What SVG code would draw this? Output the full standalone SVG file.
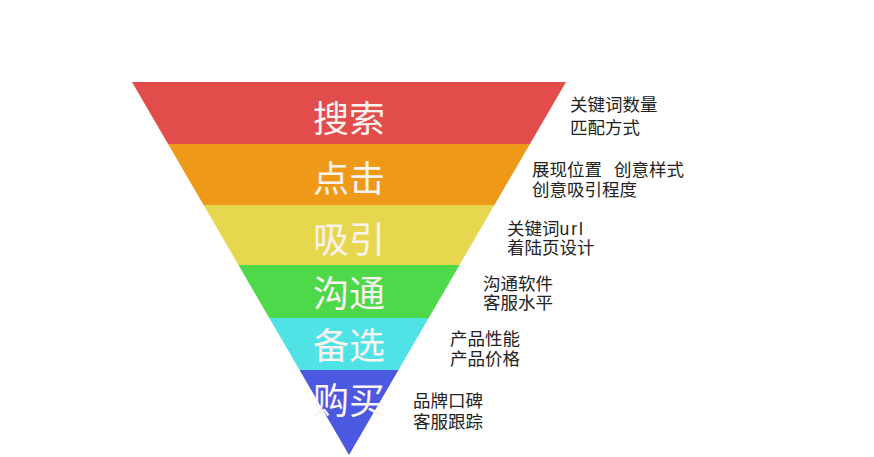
<svg xmlns="http://www.w3.org/2000/svg" width="874" height="457" viewBox="0 0 874 457">
<defs>
<style>
.big{font-family:"Noto Sans CJK SC","Noto Sans",sans-serif;font-size:36px;fill:#fbf3f0;text-anchor:middle;dominant-baseline:central}
.side{font-family:"Liberation Sans","Noto Sans CJK SC",sans-serif;font-size:17.5px;fill:#222}
</style>
<clipPath id="tri"><polygon points="132,82 566,82 349,455"/></clipPath>
</defs>
<rect width="874" height="457" fill="#fff"/>
<g clip-path="url(#tri)">
<g id="band-search"><rect x="100" y="82" width="500" height="62" fill="#E24C4A"/></g>
<g id="band-click"><rect x="100" y="144" width="500" height="61" fill="#EE9A18"/></g>
<g id="band-attract"><rect x="100" y="205" width="500" height="60" fill="#E6D74F"/></g>
<g id="band-communicate"><rect x="100" y="265" width="500" height="53" fill="#4ED94A"/></g>
<g id="band-select"><rect x="100" y="318" width="500" height="52" fill="#4FE3E6"/></g>
<g id="band-buy"><rect x="100" y="370" width="500" height="90" fill="#4B59E0"/></g>
</g>
<g id="labels">
<text class="big" x="349" y="116">搜索</text>
<text class="big" x="349" y="176">点击</text>
<text class="big" x="349" y="237">吸引</text>
<text class="big" x="349" y="291">沟通</text>
<text class="big" x="349" y="343">备选</text>
<text class="big" x="349" y="398">购买</text>
</g>
<g id="notes">
<text class="side" x="570" y="111">关键词数量<tspan x="570" dy="23">匹配方式</tspan></text>
<text class="side" x="532" y="176">展现位置<tspan x="614">创意样式</tspan><tspan x="532" dy="20">创意吸引程度</tspan></text>
<text class="side" x="507" y="235">关键词<tspan letter-spacing="2">url</tspan><tspan x="507" dy="19">着陆页设计</tspan></text>
<text class="side" x="483" y="290">沟通软件<tspan x="483" dy="19">客服水平</tspan></text>
<text class="side" x="450" y="345">产品性能<tspan x="450" dy="20">产品价格</tspan></text>
<text class="side" x="413" y="407">品牌口碑<tspan x="413" dy="21">客服跟踪</tspan></text>
</g>
</svg>
